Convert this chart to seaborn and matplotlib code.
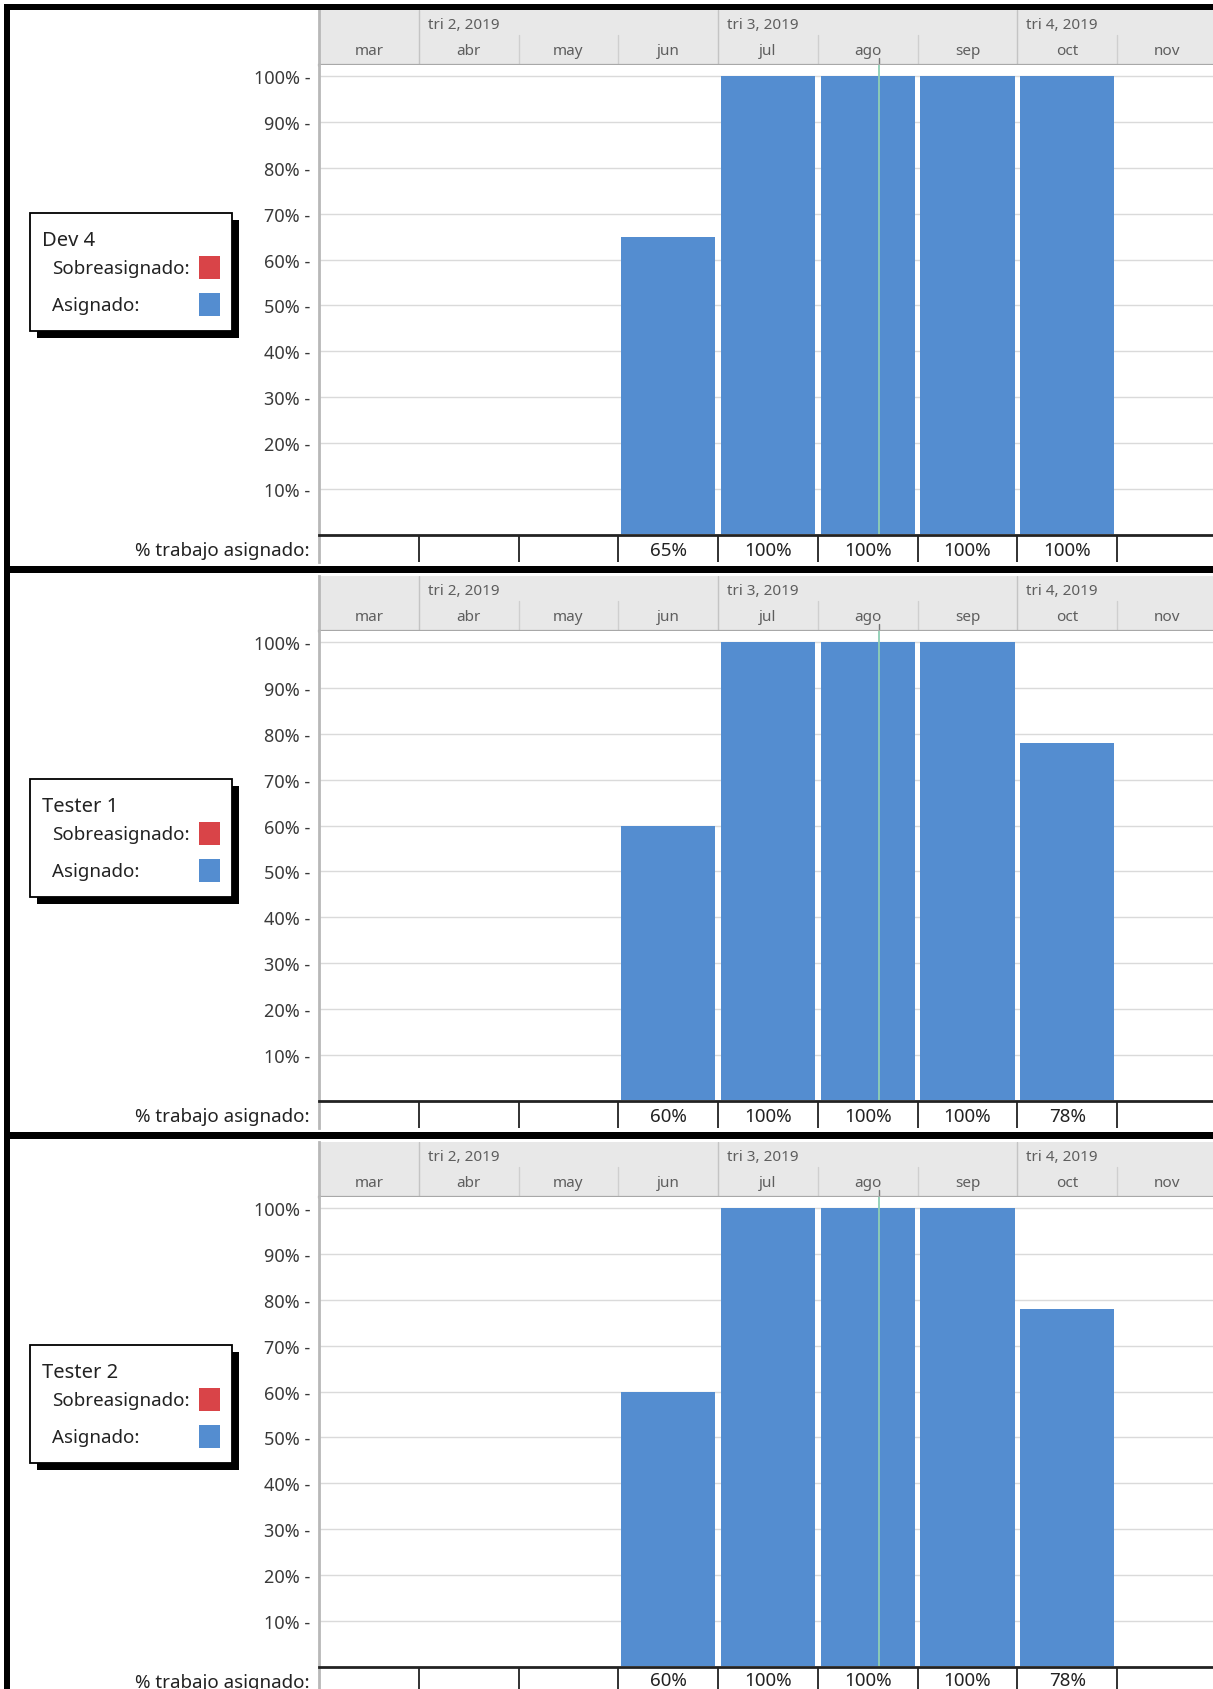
"""
Resource graph (MS Project style): % work assigned per month for three resources.
"""

import matplotlib
matplotlib.use("Agg")
import matplotlib.pyplot as plt
import seaborn as sns
import pandas as pd
from matplotlib.patches import Rectangle

W, H = 1213, 1690
PANEL_STEP = 566

MONTHS = ["mar", "abr", "may", "jun", "jul", "ago", "sep", "oct", "nov"]
QUARTER_LABELS = {"abr": "tri 2, 2019", "jul": "tri 3, 2019", "oct": "tri 4, 2019"}
RESOURCES = ["Dev 4", "Tester 1", "Tester 2"]
BAR_MONTHS = ["jun", "jul", "ago", "sep", "oct"]
DEV4 = [65, 100, 100, 100, 100]
TESTER1 = [60, 100, 100, 100, 78]
TESTER2 = [60, 100, 100, 100, 78]
YTICKS = [10, 20, 30, 40, 50, 60, 70, 80, 90, 100]
# status date line: 19 ago 2019
STATUS_MONTH, STATUS_DAY, DAYS_IN_MONTH = "ago", 19, 31

BLUE = "#548dd0"
RED = "#d94448"
HEADER_BG = "#e8e8e8"
TEXT = "#3a3a3a"

sns.set_theme(style="white")
plt.rcParams["font.family"] = ["Noto Sans", "DejaVu Sans"]

fig = plt.figure(figsize=(W / 100, H / 100), dpi=100)
fig.patch.set_facecolor("white")


def px_axes(x0, y0, x1, y1):
    return fig.add_axes([x0 / W, 1 - y1 / H, (x1 - x0) / W, (y1 - y0) / H])


def px_rect(x0, y0, x1, y1, **kw):
    r = Rectangle((x0 / W, 1 - y1 / H), (x1 - x0) / W, (y1 - y0) / H,
                  transform=fig.transFigure, **kw)
    fig.add_artist(r)
    return r


XLIM = (-0.5, 8.46)
status_x = MONTHS.index(STATUS_MONTH) - 0.5 + STATUS_DAY / DAYS_IN_MONTH

for i, (name, values) in enumerate(zip(RESOURCES, [DEV4, TESTER1, TESTER2])):
    oy = i * PANEL_STEP

    # ---- timescale header
    hx = px_axes(319, 11 + oy, W, 66 + oy)
    hx.set_facecolor(HEADER_BG)
    hx.set_xlim(*XLIM)
    hx.set_ylim(0, 1)
    hx.set_xticks([])
    hx.set_yticks([])
    for s in ["top", "right"]:
        hx.spines[s].set_visible(False)
    hx.spines["bottom"].set_color("#a8a8a8")
    hx.spines["bottom"].set_linewidth(1.6)
    hx.spines["left"].set_color("#b8b8b8")
    hx.spines["left"].set_linewidth(2)
    for k, m in enumerate(MONTHS):
        hx.text(k, 0.27, m, ha="center", va="center", fontsize=11, color="#5e5e5e")
        if m in QUARTER_LABELS:
            hx.text(k - 0.41, 0.73, QUARTER_LABELS[m], ha="left", va="center",
                    fontsize=11, color="#5e5e5e")
            hx.plot([k - 0.5, k - 0.5], [0, 1], color="#c4c4c4", lw=1)
        elif k > 0:
            hx.plot([k - 0.5, k - 0.5], [0, 0.55], color="#cfcfcf", lw=1)
    hx.plot([status_x, status_x], [0, 0.12], color="#777777", lw=1)

    # ---- bar chart
    ax = px_axes(319, 66 + oy, W, 535.3 + oy)
    df = pd.DataFrame({"mes": BAR_MONTHS, "pct": values})
    sns.barplot(data=df, x="mes", y="pct", order=MONTHS, color=BLUE,
                saturation=1, width=0.945, linewidth=0, ax=ax, zorder=2)
    ax.set_xlim(*XLIM)
    ax.set_ylim(0, 102.5)
    ax.set_xlabel("")
    ax.set_ylabel("")
    ax.set_xticks([])
    ax.set_yticks(YTICKS)
    ax.set_yticklabels([f"{v}% -" for v in YTICKS])
    ax.tick_params(axis="y", length=0, pad=6, labelsize=13, labelcolor=TEXT)
    ax.yaxis.grid(True, color="#dadada", lw=1)
    ax.set_axisbelow(True)
    for s in ["top", "right", "bottom"]:
        ax.spines[s].set_visible(False)
    ax.spines["left"].set_color("#b8b8b8")
    ax.spines["left"].set_linewidth(2)
    ax.axvline(status_x, color="#8fcfb4", lw=1.3, zorder=3)

    # ---- "% trabajo asignado" row
    tx = px_axes(319, 536 + oy, W, min(563 + oy, H))
    tx.set_xlim(*XLIM)
    tx.set_ylim(0, 1)
    tx.set_xticks([])
    tx.set_yticks([])
    tx.set_facecolor("white")
    for s in ["right", "bottom"]:
        tx.spines[s].set_visible(False)
    tx.spines["top"].set_color("#222222")
    tx.spines["top"].set_linewidth(2)
    tx.spines["left"].set_color("#b8b8b8")
    tx.spines["left"].set_linewidth(2)
    for k in range(len(MONTHS) - 1):
        tx.plot([k + 0.5, k + 0.5], [0, 1], color="#222222", lw=1.3)
    row_center = 0.45 if i < 2 else 0.4
    for m, v in zip(BAR_MONTHS, values):
        tx.text(MONTHS.index(m), row_center, f"{v}%", ha="center", va="center",
                fontsize=13.5, color="#222222")
    fig.text(310 / W, 1 - (551 + oy) / H, "% trabajo asignado:", ha="right",
             va="center", fontsize=13.5, color="#222222")

    # ---- legend box with shadow
    px_rect(37, 221 + oy, 239, 339 + oy, facecolor="black", edgecolor="none", zorder=5)
    px_rect(30, 214 + oy, 232, 332 + oy, facecolor="white", edgecolor="black",
            lw=1.3, zorder=6)
    fig.text(42 / W, 1 - (241 + oy) / H, name, ha="left", va="center",
             fontsize=14.5, color="#222222", zorder=7)
    fig.text(52 / W, 1 - (269 + oy) / H, "Sobreasignado:", ha="left", va="center",
             fontsize=13.5, color="#222222", zorder=7)
    fig.text(52 / W, 1 - (306 + oy) / H, "Asignado:", ha="left", va="center",
             fontsize=13.5, color="#222222", zorder=7)
    px_rect(199, 257 + oy, 220, 280 + oy, facecolor=RED, edgecolor="none", zorder=7)
    px_rect(199, 294 + oy, 220, 317 + oy, facecolor=BLUE, edgecolor="none", zorder=7)

# ---- black window frames
px_rect(4, 5, 10, H, facecolor="black", edgecolor="none", zorder=10)
px_rect(4, 5, W, 11, facecolor="black", edgecolor="none", zorder=10)
for k in (1, 2):
    y0 = 567 + (k - 1) * PANEL_STEP
    px_rect(4, y0, W, y0 + 7, facecolor="black", edgecolor="none", zorder=10)

fig.savefig("out.png", dpi=100)
